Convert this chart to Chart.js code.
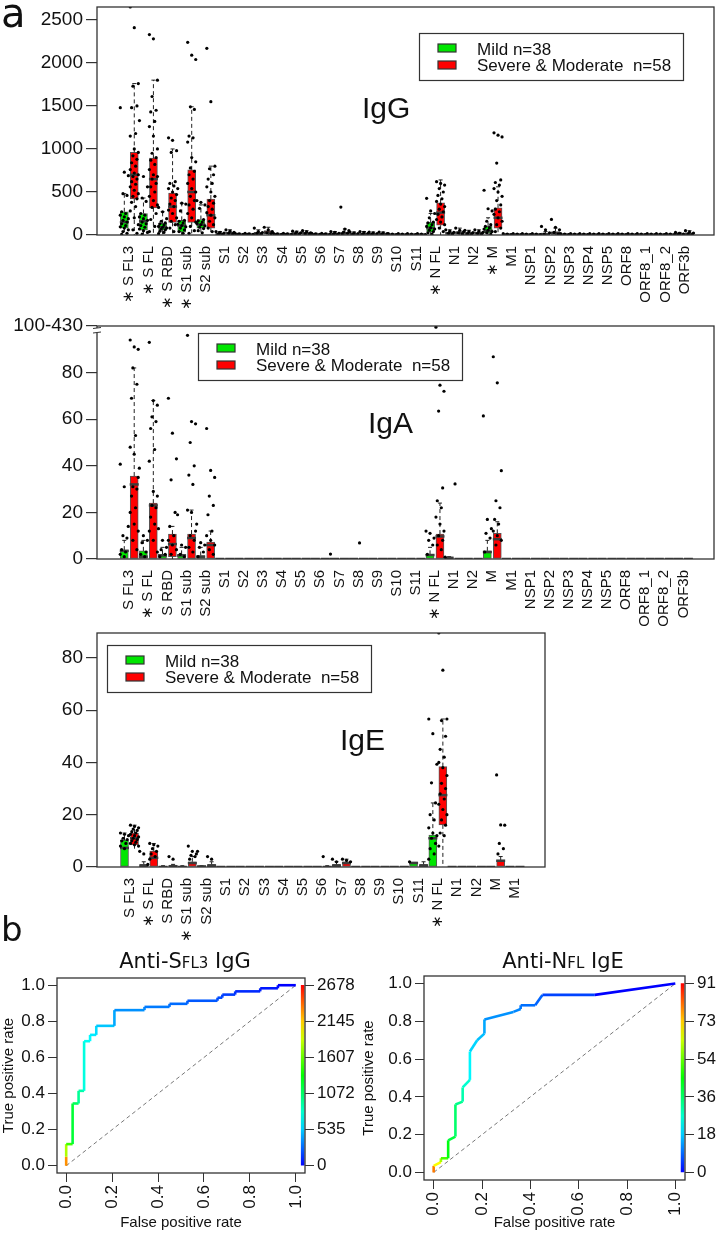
<!DOCTYPE html>
<html lang="en">
<head>
<meta charset="UTF-8">
<title>Antibody responses</title>
<script src="https://cdn.jsdelivr.net/npm/chart.js@4.4.0/dist/chart.umd.min.js"></script>
<style>
  body { margin: 0; background: #fff; }
  #page { position: relative; width: 721px; height: 1240px; overflow: hidden; }
  canvas { position: absolute; }
</style>
</head>
<body>
<div id="page">
  <canvas id="cIgG" width="721" height="310" style="left:0;top:0"></canvas>
  <canvas id="cIgA" width="721" height="320" style="left:0;top:310px"></canvas>
  <canvas id="cIgE" width="721" height="320" style="left:0;top:625px"></canvas>
  <canvas id="cRocG" width="360" height="340" style="left:0;top:900px"></canvas>
  <canvas id="cRocE" width="361" height="340" style="left:360px;top:900px"></canvas>
</div>
<script>
// ---------- data ----------
const legendLabels = ['Mild n=38', 'Severe & Moderate  n=58'];

const iggLabels = ['∗ S FL3', '∗ S FL', '∗ S RBD', '∗ S1 sub', 'S2 sub', 'S1', 'S2', 'S3', 'S4', 'S5', 'S6', 'S7', 'S8', 'S9', 'S10', 'S11',
  '∗ N FL', 'N1', 'N2', '∗ M', 'M1', 'NSP1', 'NSP2', 'NSP3', 'NSP4', 'NSP5', 'ORF8', 'ORF8_1', 'ORF8_2', 'ORF3b'];
const igaLabels = ['S FL3', '∗ S FL', 'S RBD', 'S1 sub', 'S2 sub', 'S1', 'S2', 'S3', 'S4', 'S5', 'S6', 'S7', 'S8', 'S9', 'S10', 'S11',
  '∗ N FL', 'N1', 'N2', 'M', 'M1', 'NSP1', 'NSP2', 'NSP3', 'NSP4', 'NSP5', 'ORF8', 'ORF8_1', 'ORF8_2', 'ORF3b'];
const igeLabels = ['S FL3', '∗ S FL', 'S RBD', '∗ S1 sub', 'S2 sub', 'S1', 'S2', 'S3', 'S4', 'S5', 'S6', 'S7', 'S8', 'S9', 'S10', 'S11',
  '∗ N FL', 'N1', 'N2', 'M', 'M1'];

// box stats per antigen: [lower whisker, q1, median, q3, upper whisker]
const iggMildBox = [
  [0, 80, 150, 270, 480], [0, 56, 160, 250, 430], [0, 56, 90, 135, 270], [0, 34, 110, 170, 370], [0, 79, 120, 180, 350],
  [0, 5, 10, 20, 40], [0, 3, 6, 10, 20], [0, 8, 15, 30, 60], [0, 3, 6, 10, 20], [0, 8, 15, 25, 45], [0, 3, 6, 10, 20],
  [0, 5, 10, 20, 40], [0, 5, 10, 18, 35], [0, 5, 10, 18, 35], [0, 3, 5, 8, 15], [0, 3, 5, 8, 15],
  [0, 34, 80, 147, 250], [0, 10, 20, 35, 60], [0, 8, 15, 30, 55], [0, 23, 50, 102, 200], [0, 3, 5, 8, 15],
  [0, 3, 5, 8, 15], [0, 5, 10, 20, 40], [0, 3, 5, 8, 15], [0, 3, 5, 8, 15], [0, 3, 5, 8, 15],
  [0, 3, 5, 8, 15], [0, 3, 5, 8, 15], [0, 3, 5, 8, 15], [0, 5, 10, 15, 30]
];
const iggSevBox = [
  [0, 418, 700, 960, 1760], [0, 316, 650, 893, 1800], [0, 147, 330, 486, 1000], [0, 147, 500, 757, 1490], [0, 79, 230, 418, 800],
  [0, 10, 20, 35, 60], [0, 3, 6, 10, 20], [0, 15, 30, 50, 90], [0, 3, 6, 10, 20], [0, 10, 20, 30, 50], [0, 3, 6, 10, 20],
  [0, 10, 20, 35, 70], [0, 5, 10, 20, 40], [0, 5, 10, 18, 35], [0, 3, 5, 8, 15], [0, 3, 5, 8, 15],
  [0, 113, 260, 373, 640], [0, 10, 25, 40, 80], [0, 10, 20, 35, 60], [0, 79, 200, 316, 560], [0, 3, 5, 8, 15],
  [0, 3, 5, 8, 15], [0, 10, 20, 40, 80], [0, 3, 5, 8, 15], [0, 3, 5, 8, 15], [0, 3, 5, 8, 15],
  [0, 3, 5, 8, 15], [0, 3, 5, 8, 15], [0, 3, 5, 8, 15], [0, 5, 12, 25, 50]
];
const iggMildPts = [
  [1480, 730, 690, 480, 460, 270, 250, 230, 210, 190, 170, 150, 130, 110, 95, 80, 60, 40, 20, 8],
  [1330, 680, 560, 430, 390, 250, 230, 210, 190, 170, 150, 130, 110, 90, 70, 50, 30, 10],
  [320, 270, 190, 160, 140, 130, 115, 100, 90, 80, 70, 60, 45, 30, 15],
  [540, 370, 360, 280, 170, 160, 140, 125, 110, 95, 80, 60, 40, 20],
  [400, 380, 350, 310, 180, 165, 150, 135, 120, 105, 90, 75, 50, 25],
  [40, 30, 22, 15, 8], [20, 14, 8, 4], [80, 40, 28, 18, 10], [20, 14, 8, 4], [45, 35, 25, 15, 8], [20, 14, 8, 4],
  [40, 30, 20, 12, 6], [35, 25, 15, 8], [35, 25, 15, 8], [15, 10, 5], [15, 10, 5],
  [426, 280, 250, 200, 150, 140, 120, 100, 85, 70, 55, 40, 25, 10],
  [60, 45, 30, 20, 10], [55, 40, 28, 15, 8],
  [520, 305, 280, 160, 120, 100, 85, 70, 55, 40, 25, 10],
  [15, 10, 5], [15, 10, 5], [100, 60, 25, 10], [15, 10, 5], [15, 10, 5], [15, 10, 5],
  [15, 10, 5], [15, 10, 5], [15, 10, 5], [30, 20, 10, 5]
];
const iggSevPts = [
  [2650, 2410, 1760, 1730, 1500, 1480, 1180, 1150, 1000, 960, 920, 880, 840, 800, 760, 720, 700, 680, 650, 620, 590, 560, 520, 480, 450, 420, 380, 330, 280, 200, 120, 60, 20],
  [2330, 2280, 1800, 1610, 1450, 1430, 1320, 1260, 1150, 1000, 950, 900, 870, 820, 760, 700, 680, 650, 600, 560, 500, 450, 400, 350, 320, 250, 180, 100, 40],
  [1130, 1100, 980, 960, 620, 600, 570, 540, 500, 470, 430, 400, 360, 330, 290, 250, 200, 160, 120, 80, 40],
  [2240, 2090, 2040, 1490, 1460, 1150, 1130, 1080, 900, 850, 780, 740, 700, 650, 600, 540, 500, 450, 400, 350, 300, 250, 200, 150, 100, 50, 20],
  [2170, 1550, 800, 770, 700, 650, 600, 560, 500, 450, 400, 370, 330, 300, 260, 230, 200, 160, 120, 80, 40],
  [60, 45, 30, 20, 10], [20, 14, 8, 4], [90, 60, 40, 25, 12], [20, 14, 8, 4], [50, 38, 25, 15, 8], [20, 14, 8, 4],
  [325, 70, 50, 35, 20, 10], [40, 30, 20, 10], [35, 25, 15, 8], [15, 10, 5], [15, 10, 5],
  [620, 600, 580, 540, 500, 460, 420, 390, 360, 330, 300, 270, 240, 210, 180, 150, 120, 80, 40],
  [80, 55, 40, 25, 12], [60, 45, 30, 20, 10],
  [1187, 1160, 1140, 836, 640, 610, 580, 540, 500, 450, 400, 350, 300, 270, 240, 200, 160, 120, 80, 40],
  [15, 10, 5], [15, 10, 5], [181, 90, 60, 30, 10], [15, 10, 5], [15, 10, 5], [15, 10, 5],
  [15, 10, 5], [15, 10, 5], [15, 10, 5], [50, 35, 22, 12, 5]
];

const Z = [0, 0, 0, 0, 0];
const igaMildBox = [
  [0, 0, 3.5, 3.8, 8], [0, 0, 1, 3.5, 8], [0, 0, 1.5, 2, 5], [0, 0, 1.5, 2, 5], [0, 0, 1, 1.5, 5],
  Z, Z, Z, Z, Z, Z, Z, Z, Z, Z, Z,
  [0, 0, 1.7, 2, 5], [0, 0, 0.5, 0.8, 1], Z, [0, 0, 3, 3.5, 8],
  Z, Z, Z, Z, Z, Z, Z, Z, Z, Z
];
const igaSevBox = [
  [0, 0, 32, 35.6, 82], [0, 0, 23, 24, 68], [0, 1, 6.4, 10.7, 14], [0, 0, 9, 10.7, 21], [0, 0, 6, 7.3, 12],
  Z, Z, Z, Z, Z, Z, Z, Z, Z, Z, Z,
  [0, 0, 9.7, 10.7, 24], Z, Z, [0, 0, 8.5, 11, 16],
  Z, Z, Z, Z, Z, Z, Z, Z, Z, Z
];
const igaMildPts = [
  [40.7, 31, 14, 10, 9, 4, 3, 2, 1], [39, 10, 8, 7, 3, 2, 1], [13, 8, 5, 4, 2, 1], [19, 6, 5, 2, 1], [15, 7, 6, 5, 3, 1],
  [], [], [], [], [], [], [2.1], [], [], [], [],
  [12, 11, 9, 8, 6, 2], [0.8], [], [61.4, 17, 13, 11, 9, 3],
  [], [], [], [], [], [], [], [], [], []
];
const igaSevPts = [
  [94, 91, 90, 82, 75, 69, 53, 48, 45, 35, 31, 30, 27, 22, 20, 15, 12, 8, 4],
  [93, 68, 66, 61, 59, 56, 47, 42, 29, 27, 23, 22, 18, 15, 12, 8, 3],
  [69, 54, 43, 34, 20, 14, 10, 8, 6, 4, 2],
  [96, 59, 58, 50, 40, 36, 32, 21, 20, 12, 10, 8, 5, 3],
  [56, 38, 35, 27, 23, 19, 12, 10, 8, 6, 4, 2],
  [], [], [], [], [], [], [], [6.9], [], [], [],
  [99.5, 74.6, 72, 63.5, 30.5, 25, 22, 18, 15, 12, 10, 8, 6, 4], [32.2], [],
  [86.8, 75.6, 37.9, 25, 22, 17, 15, 12, 10, 8, 6],
  [], [], [], [], [], [], [], [], [], []
];

const igeMildBox = [
  [0, 0, 7.3, 10.3, 13], [0, 0, 0.5, 1, 2], [0, 0, 0, 0.3, 0.5], [0, 0, 0, 0.3, 0.5], [0, 0, 0.2, 0.4, 0.5],
  Z, Z, Z, Z, Z, Z, [0, 0, 0.5, 1, 2], Z, Z, Z, [0, 0, 1.5, 2, 2],
  [0, 0, 11, 12.2, 24.5], Z, Z, Z, Z
];
const igeSevBox = [
  [7, 8.4, 11, 13, 16], [0, 0, 3.5, 6.1, 9], [0, 0, 0.3, 0.5, 1], [0, 0, 1.5, 2, 4], [0, 0, 0.5, 1, 2],
  Z, Z, Z, Z, Z, [0, 0, 0, 0.2, 0.5], [0, 0, 1.5, 2, 3], Z, Z, Z, [0, 0, 0.5, 1, 2],
  [0, 16.1, 27.5, 38.4, 56.6], Z, Z, [0, 0, 2.4, 2.6, 4], Z
];
const igeMildPts = [
  [13, 12.5, 12, 11, 10.5, 10, 9, 8, 7], [6, 5, 1], [], [], [6],
  [], [], [], [], [], [], [3, 2], [], [], [], [2],
  [56.6, 51, 39.3, 32.2, 24.5, 20, 18, 15, 13, 12, 11, 9, 7, 5, 3], [], [], [], []
];
const igeSevPts = [
  [16, 15.5, 15, 14.5, 14, 13.5, 13, 12.5, 12, 11.5, 11, 10.5, 10, 9.5, 9, 8.5, 8],
  [9, 8.5, 8, 7, 6, 5, 4, 3], [4, 3], [8, 6, 5, 4.5, 4, 3], [4, 3],
  [], [], [], [], [], [4], [3, 2.5, 2], [], [], [], [],
  [89.5, 75.3, 56.6, 56, 50, 45, 42, 40, 38, 35, 32, 30, 28, 26, 24, 22, 20, 18, 16, 13, 12, 8],
  [], [], [35.2, 16.1, 16, 9, 7, 5], []
];

// ROC curves: false positive rate, true positive rate, cutoff at each point
const rocGFpr = [0, 0, 0, 0.028, 0.028, 0.054, 0.054, 0.078, 0.078, 0.104, 0.104, 0.131, 0.131, 0.21, 0.21, 0.341, 0.341, 0.45, 0.45, 0.528, 0.528, 0.659, 0.659, 0.68, 0.68, 0.736, 0.736, 0.845, 0.845, 0.922, 0.922, 1.0];
const rocGTpr = [0, 0.05, 0.12, 0.12, 0.345, 0.345, 0.415, 0.415, 0.69, 0.69, 0.725, 0.725, 0.775, 0.775, 0.862, 0.862, 0.88, 0.88, 0.897, 0.897, 0.914, 0.914, 0.931, 0.931, 0.948, 0.948, 0.966, 0.966, 0.983, 0.983, 1.0, 1.0];
const rocGCut = [2678, 2300, 1800, 1500, 1200, 1100, 950, 900, 750, 700, 660, 620, 580, 520, 440, 380, 360, 320, 300, 280, 260, 230, 210, 200, 180, 160, 140, 110, 90, 60, 40, 0];
const rocGCutTicks = ['0', '535', '1072', '1607', '2145', '2678'];

const rocEFpr = [0, 0, 0.03, 0.03, 0.06, 0.06, 0.09, 0.09, 0.12, 0.12, 0.15, 0.15, 0.18, 0.21, 0.21, 0.33, 0.36, 0.36, 0.42, 0.45, 0.667, 1.0];
const rocETpr = [0, 0.035, 0.055, 0.075, 0.075, 0.17, 0.19, 0.36, 0.375, 0.45, 0.49, 0.64, 0.70, 0.735, 0.81, 0.85, 0.865, 0.885, 0.885, 0.94, 0.94, 1.0];
const rocECut = [91, 80, 68, 60, 52, 44, 40, 36, 33, 30, 27, 22, 19, 17, 15, 13, 12, 11, 10, 9, 6, 0];
const rocECutTicks = ['0', '18', '36', '54', '73', '91'];

const rocTicks = [0, 0.2, 0.4, 0.6, 0.8, 1.0];

// ---------- helpers ----------
Chart.defaults.font.family = '"Liberation Sans", Arial, sans-serif';
Chart.defaults.color = '#111';
Chart.defaults.animation = false;
Chart.defaults.events = [];
Chart.defaults.plugins.legend.display = false;
Chart.defaults.plugins.tooltip.enabled = false;

const GREEN = '#00e600';
const RED = '#ff0000';

function rainbow(t) {
  const h = 240 * (1 - Math.max(0, Math.min(1, t)));
  return 'hsl(' + h + ',100%,50%)';
}

function jit(k) {
  return ((k * 3) % 7 - 3) * 0.07;
}

// fixed axis sizes, no automatic label padding
function fixV(w) {
  return s => { s.width = w; s.paddingTop = 0; s.paddingBottom = 0; };
}
function fixH(h) {
  return s => { s.height = h; s.paddingLeft = 0; s.paddingRight = 0; };
}

// frame, axis break, free texts and the boxed legend
const deco = {
  id: 'deco',
  afterDatasetsDraw(chart, args, o) {
    const { ctx, chartArea: a } = chart;
    ctx.save();
    ctx.strokeStyle = '#333';
    ctx.lineWidth = 1.3;
    ctx.strokeRect(a.left, a.top, a.right - a.left, a.bottom - a.top);
    if (o.brk) {
      ctx.clearRect(a.left - 2, a.top + 2, 4, 5);
      ctx.lineWidth = 1;
      ctx.beginPath();
      ctx.moveTo(a.left - 4, a.top + 2.5); ctx.lineTo(a.left + 4, a.top + 1.5);
      ctx.moveTo(a.left - 4, a.top + 7); ctx.lineTo(a.left + 4, a.top + 6);
      ctx.stroke();
    }
    ctx.fillStyle = '#111';
    ctx.textBaseline = 'alphabetic';
    (o.texts || []).forEach(t => {
      const fam = t.family || 'Liberation Sans';
      let w = 0;
      t.parts.forEach(p => { ctx.font = p.s + 'px "' + fam + '"'; w += ctx.measureText(p.t).width; });
      let x = t.align === 'center' ? t.x - w / 2 : t.x;
      t.parts.forEach(p => {
        ctx.font = p.s + 'px "' + fam + '"';
        ctx.fillText(p.t, x, t.y);
        x += ctx.measureText(p.t).width;
      });
    });
    if (o.legend) {
      const L = o.legend;
      ctx.fillStyle = '#fff';
      ctx.fillRect(L.x, L.y, 264, 47);
      ctx.strokeStyle = '#333';
      ctx.lineWidth = 1.2;
      ctx.strokeRect(L.x + 0.5, L.y + 0.5, 264, 47);
      [GREEN, RED].forEach((c, i) => {
        ctx.fillStyle = c;
        ctx.fillRect(L.x + 19, L.y + 11 + i * 17, 18, 8);
        ctx.strokeRect(L.x + 19, L.y + 11 + i * 17, 18, 8);
      });
      ctx.fillStyle = '#111';
      ctx.font = '17px "Liberation Sans"';
      ctx.fillText(legendLabels[0], L.x + 58, L.y + 22);
      ctx.fillText(legendLabels[1], L.x + 58, L.y + 38);
    }
    ctx.restore();
  }
};

function boxChart(id, labels, mild, sev, mildPts, sevPts, cfg) {
  const off = 0.26;
  const datasets = [];
  [{ box: mild, pts: mildPts, color: GREEN, dx: -off }, { box: sev, pts: sevPts, color: RED, dx: off }].forEach(g => {
    const pos = labels.map((_, i) => i + g.dx);
    // jittered samples
    datasets.push({
      type: 'scatter', order: 0,
      data: g.pts.flatMap((arr, i) => arr.map((v, k) => ({ x: pos[i] + jit(k), y: v }))),
      pointRadius: 1.6, pointBackgroundColor: '#000', pointBorderWidth: 0
    });
    // medians
    datasets.push({
      type: 'scatter', order: 1,
      data: g.box.map((b, i) => ({ x: pos[i], y: b[2] })),
      pointStyle: 'line', pointRadius: 4.5, pointBorderWidth: 2.5, pointBorderColor: '#3c3c3c'
    });
    // whisker staples
    datasets.push({
      type: 'scatter', order: 2,
      data: g.box.flatMap((b, i) => b[4] > b[3] ? [{ x: pos[i], y: b[4] }] : []),
      pointStyle: 'line', pointRadius: 2, pointBorderWidth: 1, pointBorderColor: '#222'
    });
    // dashed whiskers
    const wh = [];
    g.box.forEach((b, i) => {
      if (b[4] > b[3]) wh.push({ x: pos[i], y: b[3] }, { x: pos[i], y: b[4] }, { x: pos[i], y: null });
      if (b[1] > b[0]) wh.push({ x: pos[i], y: b[1] }, { x: pos[i], y: b[0] }, { x: pos[i], y: null });
    });
    datasets.push({
      type: 'line', order: 3, data: wh, spanGaps: false,
      borderColor: '#222', borderWidth: 1, borderDash: [4, 3], pointRadius: 0
    });
    // boxes
    datasets.push({
      type: 'bar', order: 4, grouped: false, barThickness: 8,
      data: g.box.map((b, i) => ({ x: pos[i], y: [b[1], b[3]] })),
      backgroundColor: g.color, borderColor: '#555', borderWidth: 1, borderSkipped: false
    });
  });

  return new Chart(document.getElementById(id), {
    type: 'scatter',
    data: { datasets },
    plugins: [deco],
    options: {
      responsive: false,
      layout: { padding: { top: cfg.top, right: cfg.right, left: 0, bottom: 0 } },
      scales: {
        x: {
          type: 'linear', offset: false, min: -1.687, max: labels.length - 1 + cfg.xtail,
          afterBuildTicks: s => { s.ticks = labels.map((_, i) => ({ value: i })); },
          afterFit: fixH(cfg.xh),
          ticks: { callback: v => labels[v], minRotation: 90, maxRotation: 90, autoSkip: false, font: { size: 15 }, padding: 3 },
          grid: { display: false, offset: false },
          border: { display: false }
        },
        y: {
          min: 0, max: cfg.ymax,
          afterBuildTicks: s => { s.ticks = cfg.yticks.map(v => ({ value: v })); },
          afterFit: fixV(97),
          ticks: { callback: cfg.yfmt || (v => v), font: { size: 19 }, padding: 3 },
          grid: { drawOnChartArea: false, tickLength: 11, color: '#333', lineWidth: 1.2 },
          border: { display: false }
        }
      },
      plugins: { deco: { texts: cfg.texts, legend: cfg.legend, brk: cfg.brk } }
    }
  });
}

function rocChart(id, fpr, tpr, cut, cutTicks, cfg) {
  const cutMax = cut[0];
  return new Chart(document.getElementById(id), {
    type: 'scatter',
    data: {
      datasets: [
        {
          type: 'line', order: 0,
          data: fpr.map((x, i) => ({ x, y: tpr[i] })),
          borderWidth: 2.6, pointRadius: 0, borderColor: rainbow(0),
          segment: { borderColor: c => rainbow(cut[c.p1DataIndex] / cutMax) }
        },
        {
          type: 'line', order: 1,
          data: [{ x: 0, y: 0 }, { x: 1, y: 1 }],
          borderColor: '#777', borderWidth: 1, borderDash: [4, 3], pointRadius: 0
        },
        {
          type: 'bar', order: 2, grouped: false, barThickness: 3,
          data: [{ x: 1.03, y: [0, 1] }],
          borderWidth: 0,
          backgroundColor: ({ chart }) => {
            const ys = chart.scales.y;
            if (!ys || !chart.chartArea) return RED;
            const y0 = ys.getPixelForValue(0), y1 = ys.getPixelForValue(1);
            if (!isFinite(y0) || !isFinite(y1) || y0 === y1) return RED;
            const g = chart.ctx.createLinearGradient(0, y0, 0, y1);
            for (let s = 0; s <= 10; s++) g.addColorStop(s / 10, rainbow(s / 10));
            return g;
          }
        }
      ]
    },
    plugins: [deco],
    options: {
      responsive: false,
      layout: { padding: { top: cfg.top, right: 0, left: 0, bottom: 0 } },
      scales: {
        x: {
          type: 'linear', offset: false, min: -0.04, max: 1.04,
          afterBuildTicks: s => { s.ticks = rocTicks.map(v => ({ value: v })); },
          afterFit: fixH(cfg.xh),
          ticks: { callback: v => v.toFixed(1), minRotation: 90, maxRotation: 90, autoSkip: false, font: { size: 17 }, padding: 3 },
          grid: { drawOnChartArea: false, offset: false, tickLength: 9, color: '#333' },
          border: { display: false },
          title: { display: true, text: 'False positive rate', font: { size: 15 }, padding: { top: 0, bottom: 8 } }
        },
        y: {
          min: -0.04, max: 1.04,
          afterBuildTicks: s => { s.ticks = rocTicks.map(v => ({ value: v })); },
          afterFit: fixV(cfg.yw),
          ticks: { callback: v => v.toFixed(1), font: { size: 17 }, padding: 3 },
          grid: { drawOnChartArea: false, tickLength: 9, color: '#333' },
          border: { display: false },
          title: { display: true, text: 'True positive rate', font: { size: 15 }, padding: { top: 0, bottom: 2 } }
        },
        y2: {
          position: 'right', type: 'linear', min: -0.04, max: 1.04,
          afterBuildTicks: s => { s.ticks = rocTicks.map(v => ({ value: v })); },
          afterFit: fixV(cfg.y2w),
          ticks: { callback: (v, i) => cutTicks[i], font: { size: 17 }, padding: 3 },
          grid: { drawOnChartArea: false, tickLength: 9, color: '#333' },
          border: { display: false }
        }
      },
      plugins: { deco: { texts: cfg.texts } }
    }
  });
}

// ---------- charts ----------
boxChart('cIgG', iggLabels, iggMildBox, iggSevBox, iggMildPts, iggSevPts, {
  top: 1, right: 3, xh: 75, xtail: 1.54, ymax: 2650, yticks: [0, 500, 1000, 1500, 2000, 2500],
  texts: [
    { parts: [{ t: 'a', s: 40 }], x: 1, y: 27, family: 'DejaVu Sans' },
    { parts: [{ t: 'IgG', s: 30 }], x: 362, y: 118 }
  ],
  legend: { x: 419, y: 33 }
});

boxChart('cIgA', igaLabels, igaMildBox, igaSevBox, igaMildPts, igaSevPts, {
  top: 16, right: 2, xh: 71, xtail: 1.6, ymax: 100, yticks: [0, 20, 40, 60, 80, 100],
  yfmt: v => v === 100 ? '100-430' : v, brk: true,
  texts: [{ parts: [{ t: 'IgA', s: 30 }], x: 368, y: 123 }],
  legend: { x: 198, y: 23 }
});

boxChart('cIgE', igeLabels, igeMildBox, igeSevBox, igeMildPts, igeSevPts, {
  top: 8, right: 176, xh: 78, xtail: 1.56, ymax: 89.5, yticks: [0, 20, 40, 60, 80],
  texts: [{ parts: [{ t: 'IgE', s: 30 }], x: 340, y: 125 }],
  legend: { x: 107, y: 20 }
});

rocChart('cRocG', rocGFpr, rocGTpr, rocGCut, rocGCutTicks, {
  top: 78, xh: 67, yw: 57, y2w: 55,
  texts: [
    { parts: [{ t: 'b', s: 34 }], x: 1, y: 41, family: 'DejaVu Sans' },
    { parts: [{ t: 'Anti-S', s: 21 }, { t: 'FL3', s: 15 }, { t: ' IgG', s: 21 }], x: 185, y: 68, align: 'center', family: 'DejaVu Sans' }
  ]
});

rocChart('cRocE', rocEFpr, rocETpr, rocECut, rocECutTicks, {
  top: 76, xh: 60, yw: 64, y2w: 36,
  texts: [
    { parts: [{ t: 'Anti-N', s: 21 }, { t: 'FL', s: 15 }, { t: ' IgE', s: 21 }], x: 203, y: 68, align: 'center', family: 'DejaVu Sans' }
  ]
});
</script>
</body>
</html>
